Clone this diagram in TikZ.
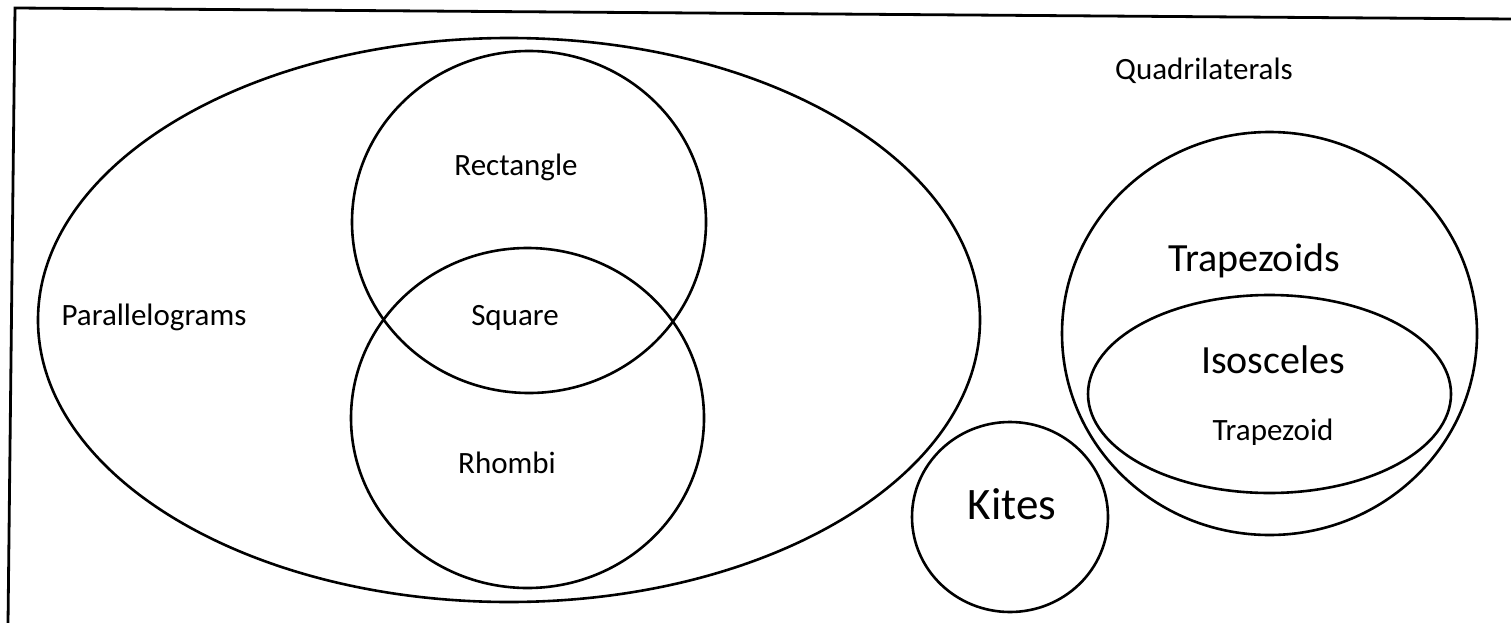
\documentclass[tikz,border=0pt]{standalone}
\usepackage{fontspec}
\setmainfont{Carlito}
\begin{document}
\begin{tikzpicture}[x=1pt,y=-1pt,
  outline/.style={line width=2.6pt,black},
  framestyle/.style={line width=2.8pt,black},
  lblsmall/.style={font=\fontsize{31}{31}\selectfont,inner sep=0pt,anchor=base},
  lblbig/.style={font=\fontsize{40}{40}\selectfont,inner sep=0pt,anchor=base},
  lblkite/.style={font=\fontsize{45}{45}\selectfont,inner sep=0pt,anchor=base}]
\useasboundingbox (0,0) rectangle (1511,623);
% frame
\coordinate (tl) at (15,8);
\coordinate (tr) at (1512,19);
\coordinate (bl) at (8,624);
\draw[framestyle] (tr) -- (tl) -- (bl);
% shapes
\draw[outline] (509,320) ellipse [x radius=471, y radius=282];
\draw[outline] (529,222) ellipse [x radius=177, y radius=171];
\draw[outline] (527.5,418) ellipse [x radius=176.5, y radius=170];
\draw[outline] (1010,517) ellipse [x radius=98, y radius=95];
\draw[outline] (1269.5,333.5) ellipse [x radius=207.5, y radius=201.5];
\draw[outline] (1269.5,394) ellipse [x radius=181.5, y radius=99];
% labels
\node[lblsmall] (quad) at (1204,80) {Quadrilaterals};
\node[lblsmall] (para) at (154,325) {Parallelograms};
\node[lblsmall] (rect) at (516,175) {Rectangle};
\node[lblsmall] (sq) at (515,325) {Square};
\node[lblsmall] (rh) at (507,473) {Rhombi};
\node[lblbig] (trap) at (1254,271) {Trapezoids};
\node[lblbig] (iso) at (1273,373) {Isosceles};
\node[lblsmall] (trapz) at (1273,440) {Trapezoid};
\node[lblkite] (kite) at (1012,519) {Kites};
\end{tikzpicture}
\end{document}
